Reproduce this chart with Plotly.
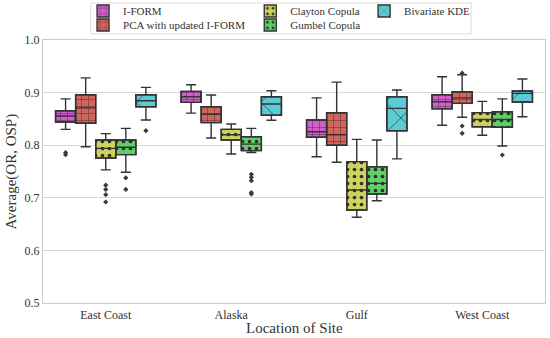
import plotly.graph_objects as go

sites = ["East Coast", "Alaska", "Gulf", "West Coast"]
series = ["I-FORM", "PCA with updated I-FORM", "Clayton Copula", "Gumbel Copula", "Bivariate KDE"]

# per-series box statistics (one value per site)
iform_low = [0.830, 0.861, 0.778, 0.838]
iform_q1 = [0.844, 0.8815, 0.815, 0.869]
iform_med = [0.8555, 0.892, 0.8257, 0.8827]
iform_q3 = [0.8656, 0.9024, 0.848, 0.896]
iform_up = [0.888, 0.915, 0.890, 0.930]
iform_out = [[0.786, 0.782], [], [], []]

pca_low = [0.797, 0.8137, 0.7675, 0.853]
pca_q1 = [0.8416, 0.843, 0.800, 0.8796]
pca_med = [0.871, 0.8587, 0.820, 0.890]
pca_q3 = [0.896, 0.873, 0.862, 0.9017]
pca_up = [0.928, 0.8954, 0.920, 0.934]
pca_out = [[], [], [], [0.937, 0.8365, 0.8226]]

clay_low = [0.753, 0.7833, 0.663, 0.8188]
clay_q1 = [0.7757, 0.810, 0.6768, 0.835]
clay_med = [0.794, 0.820, 0.7148, 0.849]
clay_q3 = [0.810, 0.830, 0.7687, 0.862]
clay_up = [0.822, 0.8403, 0.811, 0.8834]
clay_out = [[0.724, 0.716, 0.706, 0.692], [], [], []]

gumb_low = [0.7485, 0.786, 0.6945, 0.7985]
gumb_q1 = [0.782, 0.7896, 0.7072, 0.834]
gumb_med = [0.796, 0.802, 0.7275, 0.849]
gumb_q3 = [0.810, 0.816, 0.759, 0.8637]
gumb_up = [0.832, 0.832, 0.810, 0.888]
gumb_out = [[0.738, 0.716], [0.7447, 0.739, 0.7325, 0.710, 0.707], [], [0.7814]]

kde_low = [0.848, 0.8473, 0.774, 0.854]
kde_q1 = [0.873, 0.857, 0.8276, 0.882]
kde_med = [0.8846, 0.8783, 0.870, 0.8986]
kde_q3 = [0.896, 0.892, 0.892, 0.903]
kde_up = [0.910, 0.9036, 0.905, 0.9259]
kde_out = [[0.8276], [], [], []]

stats = [
    (iform_low, iform_q1, iform_med, iform_q3, iform_up, iform_out),
    (pca_low, pca_q1, pca_med, pca_q3, pca_up, pca_out),
    (clay_low, clay_q1, clay_med, clay_q3, clay_up, clay_out),
    (gumb_low, gumb_q1, gumb_med, gumb_q3, gumb_up, gumb_out),
    (kde_low, kde_q1, kde_med, kde_q3, kde_up, kde_out),
]

colors = ["#d25ecd", "#d2655d", "#cdd35d", "#5fcf68", "#5ccbd3"]
patterns = [("+", 7, 0.12), ("+", 7, 0.12), (".", 7, 0.22), (".", 7, 0.22), ("x", 22, 0.06)]
edge = "#333333"
FONT = "Liberation Serif"

# legend placement (container coords; one legend per entry, 3 columns x 2 rows)
leg_x = [0.151, 0.151, 0.455, 0.455, 0.662]
leg_y = [0.9675, 0.926, 0.9675, 0.926, 0.9675]

fig = go.Figure()

# filled, hatched boxes (IQR) as bars
for i, name in enumerate(series):
    low, q1, med, q3, up, out = stats[i]
    shape, size, sol = patterns[i]
    fig.add_trace(go.Bar(
        x=sites, y=[b - a for a, b in zip(q1, q3)], base=q1, name=name,
        offsetgroup=str(i), legend="legend" if i == 0 else f"legend{i + 1}",
        marker=dict(color=colors[i], line=dict(color=edge, width=1.4),
                    pattern=dict(shape=shape, size=size, solidity=sol,
                                 fgcolor="#222222", fgopacity=0.9)),
        hoverinfo="skip",
    ))

# whiskers, medians, outliers
for i, name in enumerate(series):
    low, q1, med, q3, up, out = stats[i]
    fig.add_trace(go.Box(
        x=sites, y=[o if o else [None] for o in out], q1=q1, median=med, q3=q3,
        lowerfence=low, upperfence=up, name=name,
        offsetgroup=str(i), showlegend=False,
        fillcolor="rgba(0,0,0,0)", line=dict(color=edge, width=1.4),
        whiskerwidth=0.5, boxpoints="outliers", pointpos=0, jitter=0,
        marker=dict(symbol="diamond", size=4, color="#3a3a3a",
                    line=dict(width=0)),
    ))

legend_layout = {}
for i in range(5):
    key = "legend" if i == 0 else f"legend{i + 1}"
    legend_layout[key] = dict(x=leg_x[i], y=leg_y[i], xref="container", yref="container",
                              xanchor="left", yanchor="middle",
                              bgcolor="rgba(0,0,0,0)",
                              font=dict(size=11, family=FONT, color="#333333"))

fig.update_layout(
    width=550, height=338,
    margin=dict(l=43, r=5, t=40, b=35, autoexpand=False),
    paper_bgcolor="white", plot_bgcolor="white",
    font=dict(family=FONT, size=12, color="#333333"),
    barmode="group", bargap=0.2, bargroupgap=0,
    boxmode="group", boxgap=0.2, boxgroupgap=0,
    xaxis=dict(range=[-0.5, 3.5], showgrid=False, showline=True, mirror=True,
               linecolor="#cccccc", linewidth=1.2, ticks="",
               tickfont=dict(size=12, family=FONT, color="#333333")),
    yaxis=dict(range=[0.5, 1.0], dtick=0.1, tickformat=".1f", showgrid=True,
               gridcolor="#d9d9d9", gridwidth=1, zeroline=False,
               showline=True, mirror=True, linecolor="#cccccc", linewidth=1.2,
               ticks="", tickfont=dict(size=12, family=FONT, color="#333333")),
    annotations=[
        dict(text="Location of Site", xref="paper", yref="paper", x=0.5, y=-0.095,
             xanchor="center", yanchor="middle", showarrow=False,
             font=dict(size=15, family=FONT, color="#333333")),
        dict(text="Average(OR, OSP)", xref="paper", yref="paper", x=-0.062, y=0.5,
             xanchor="center", yanchor="middle", textangle=-90, showarrow=False,
             font=dict(size=15, family=FONT, color="#333333")),
    ],
    shapes=[dict(type="rect", xref="paper", yref="paper", x0=0.095, x1=0.853,
                 y0=1.023, y1=1.141, line=dict(color="#dddddd", width=1),
                 fillcolor="rgba(255,255,255,0.8)", layer="below")],
    **legend_layout,
)

fig.write_html("out.html", config={"displayModeBar": False},
               post_script="document.body.style.margin='0px';")
